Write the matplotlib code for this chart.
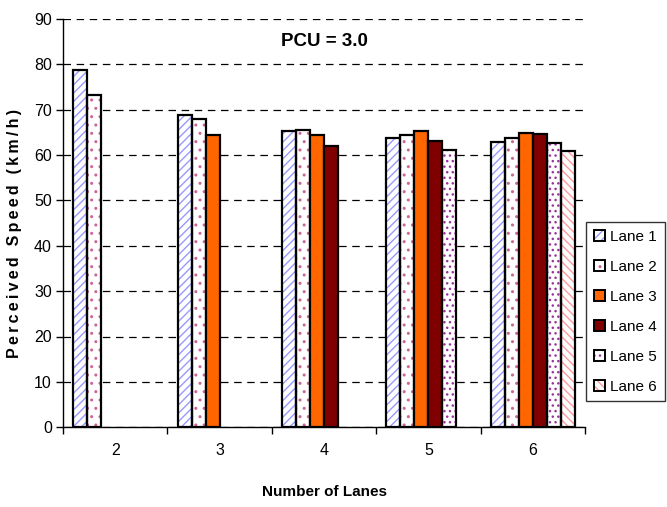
import matplotlib
matplotlib.use("Agg")
import matplotlib.pyplot as plt
from matplotlib.patches import Patch
from matplotlib.legend_handler import HandlerTuple
import numpy as np

plt.rcParams['font.family'] = ['Liberation Sans', 'DejaVu Sans']
plt.rcParams['hatch.linewidth'] = 1.0

# Number of lanes on the road (categories)
categories = ["2", "3", "4", "5", "6"]
lane_names = ["Lane 1", "Lane 2", "Lane 3", "Lane 4", "Lane 5", "Lane 6"]

# Perceived speed per lane (km/h); None where the lane does not exist
lane1 = [78.8, 68.8, 65.2, 63.7, 62.9]
lane2 = [73.3, 68.0, 65.5, 64.4, 63.8]
lane3 = [None, 64.3, 64.3, 65.2, 64.9]
lane4 = [None, None, 62.0, 63.1, 64.5]
lane5 = [None, None, None, 61.1, 62.6]
lane6 = [None, None, None, None, 60.9]
series = [lane1, lane2, lane3, lane4, lane5, lane6]

# fill style of each lane: (face colour, hatch, hatch colour)
styles = [
    ("white", "////", "#9999ff"),
    ("white", "..", "#cc6699"),
    ("#ff6600", None, None),
    ("#800000", None, None),
    ("white", "...", "#993399"),
    ("white", "\\\\\\\\", "#ff9999"),
]

fig = plt.figure(figsize=(6.67, 5.07), dpi=100)
ax = fig.add_axes([63 / 667, 1 - 427.3 / 507, (585 - 63) / 667, (427.3 - 18.7) / 507])

x = np.arange(len(categories))
w = 14 / 104.4
gap = 1 - 6 * w

handles = []
for i, (vals, (fc, hatch, hc)) in enumerate(zip(series, styles)):
    xs = [xi for xi, v in zip(x, vals) if v is not None]
    ys = [v for v in vals if v is not None]
    pos = np.array(xs) - 0.5 + gap / 2 + w * (i + 0.5)
    if hatch:
        ax.bar(pos, ys, width=w, color=fc, hatch=hatch, edgecolor=hc,
               linewidth=0, zorder=2)
        ax.bar(pos, ys, width=w, fill=False, edgecolor="black",
               linewidth=1.6, zorder=3)
        handles.append((Patch(facecolor=fc, hatch=hatch, edgecolor=hc, linewidth=0),
                        Patch(fill=False, edgecolor="black", linewidth=1.4)))
    else:
        ax.bar(pos, ys, width=w, color=fc, edgecolor="black",
               linewidth=1.6, zorder=3)
        handles.append((Patch(facecolor=fc, edgecolor="black", linewidth=1.4),))

ax.set_xlim(-0.5, len(categories) - 0.5)
ax.set_ylim(0, 90)
ax.set_yticks(np.arange(0, 91, 10))
ax.yaxis.grid(True, color="black", linestyle=(0, (6, 4.5)), linewidth=0.9)
ax.set_axisbelow(True)

ax.set_xticks(x)
ax.set_xticklabels(categories)
ax.set_xticks(np.arange(-0.5, len(categories)), minor=True)
ax.tick_params(axis="x", which="major", length=0, pad=11, labelsize=11.5)
ax.tick_params(axis="x", which="minor", length=5, width=1, direction="out")
ax.tick_params(axis="y", length=5, width=1, direction="out", labelsize=11.5, pad=3)

for s in ["top", "right"]:
    ax.spines[s].set_visible(False)
for s in ["left", "bottom"]:
    ax.spines[s].set_linewidth(1.0)

ax.text(0.5, 0.945, "PCU = 3.0", transform=ax.transAxes, ha="center",
        va="center", fontsize=13.5, fontweight="bold")
ylabel = "\u2009".join("Perceived Speed (km/h)")
ax.set_ylabel(ylabel, fontsize=11.5, fontweight="bold")
ax.yaxis.set_label_coords(-0.079, 0.4755)
ax.set_xlabel("Number of Lanes", fontsize=11, fontweight="bold", labelpad=20)

leg = fig.legend(handles=handles, labels=lane_names, loc="upper left",
                 bbox_to_anchor=(586 / 667, 1 - 222 / 507),
                 handler_map={tuple: HandlerTuple(ndivide=1, pad=0)},
                 fontsize=11, frameon=True, fancybox=False, shadow=False,
                 handlelength=0.75, handleheight=0.75, handletextpad=0.35,
                 labelspacing=1.05, borderpad=0.5, borderaxespad=0)
leg.get_frame().set_edgecolor("black")
leg.get_frame().set_linewidth(1.0)

fig.savefig("out.png", dpi=100)
